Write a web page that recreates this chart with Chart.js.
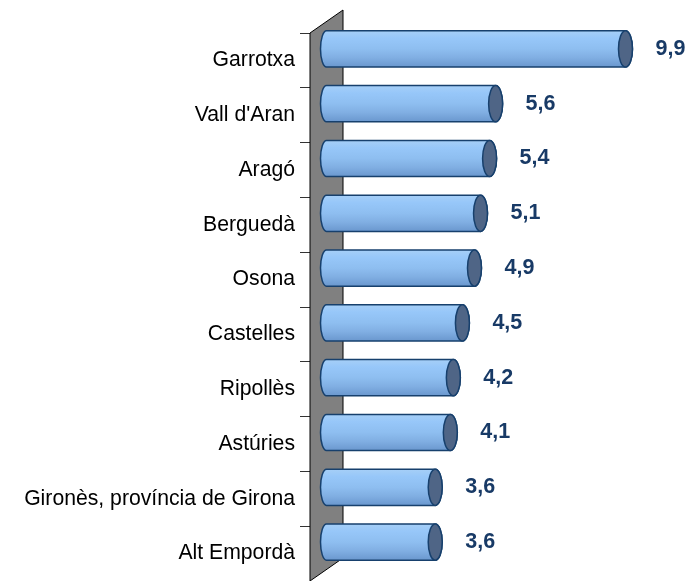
<!DOCTYPE html>
<html>
<head>
<meta charset="utf-8">
<script src="https://cdn.jsdelivr.net/npm/chart.js@4/dist/chart.umd.min.js"></script>
<style>
  html, body { margin: 0; padding: 0; background: #fff; }
  #wrap { width: 700px; height: 581px; }
</style>
</head>
<body>
<div id="wrap"><canvas id="chart"></canvas></div>
<script>
const comarques = [
  'Garrotxa', "Vall d'Aran", 'Aragó', 'Berguedà', 'Osona',
  'Castelles', 'Ripollès', 'Astúries', 'Gironès, província de Girona', 'Alt Empordà'
]
const valors = [9.9, 5.6, 5.4, 5.1, 4.9, 4.5, 4.2, 4.1, 3.6, 3.6]
const etiquetes = ['9,9', '5,6', '5,4', '5,1', '4,9', '4,5', '4,2', '4,1', '3,6', '3,6']

// profunditat de la perspectiva 3D
const WALL_DX = 33
const WALL_DY = -23

const wallPlugin = {
  id: 'wall',
  beforeDatasetsDraw(chart) {
    const { ctx, chartArea: { left, top, bottom } } = chart
    ctx.save()
    ctx.beginPath()
    ctx.moveTo(left, top)
    ctx.lineTo(left + WALL_DX, top + WALL_DY)
    ctx.lineTo(left + WALL_DX, bottom + WALL_DY)
    ctx.lineTo(left, bottom)
    ctx.closePath()
    ctx.fillStyle = '#808080'
    ctx.fill()
    ctx.strokeStyle = '#000'
    ctx.lineWidth = 1
    ctx.stroke()
    ctx.restore()
  }
}

function cylinder(ctx, x0, x1, cy, h) {
  const r = h / 2
  const rx = 7
  const top = cy - r
  const bot = cy + r
  const g = ctx.createLinearGradient(0, top, 0, bot)
  g.addColorStop(0, '#a6cff7')
  g.addColorStop(0.2, '#97c7f9')
  g.addColorStop(0.5, '#8ebef0')
  g.addColorStop(0.75, '#80aee2')
  g.addColorStop(1, '#6a97ce')

  ctx.beginPath()
  ctx.moveTo(x1, top)
  ctx.lineTo(x0, top)
  ctx.ellipse(x0, cy, rx - 1, r, 0, -Math.PI / 2, Math.PI / 2, true)
  ctx.lineTo(x1, bot)
  ctx.ellipse(x1, cy, rx, r, 0, Math.PI / 2, -Math.PI / 2, true)
  ctx.closePath()
  ctx.fillStyle = g
  ctx.fill()
  ctx.strokeStyle = '#17406d'
  ctx.lineWidth = 1.5
  ctx.stroke()

  // tapa del cilindre
  ctx.beginPath()
  ctx.ellipse(x1, cy, rx, r, 0, 0, Math.PI * 2)
  ctx.fillStyle = '#4f6586'
  ctx.fill()
  ctx.stroke()
}

const cylinderPlugin = {
  id: 'cylinders',
  afterDatasetsDraw(chart) {
    const { ctx } = chart
    const meta = chart.getDatasetMeta(0)
    const dx = WALL_DX / 2
    const dy = WALL_DY / 2
    ctx.save()
    meta.data.forEach((el, i) => {
      const { x, y, base, height } = el.getProps(['x', 'y', 'base', 'height'], true)
      cylinder(ctx, base + dx, x + dx, y + dy, height)
      ctx.fillStyle = '#183a66'
      ctx.font = 'bold 21.5px "Liberation Sans", Arial, sans-serif'
      ctx.textAlign = 'left'
      ctx.textBaseline = 'middle'
      ctx.fillText(etiquetes[i], x + dx + 30, y + dy)
    })
    ctx.restore()
  }
}

new Chart(document.getElementById('chart'), {
  type: 'bar',
  plugins: [wallPlugin, cylinderPlugin],
  data: {
    labels: comarques,
    datasets: [
      {
        data: valors,
        backgroundColor: 'transparent',
        borderWidth: 0,
        categoryPercentage: 1,
        barPercentage: 0.66
      }
    ]
  },
  options: {
    indexAxis: 'y',
    responsive: true,
    maintainAspectRatio: false,
    animation: false,
    layout: {
      padding: { top: 33, right: 88, bottom: 0, left: 0 }
    },
    plugins: {
      legend: { display: false },
      tooltip: { enabled: false }
    },
    scales: {
      x: {
        display: false,
        min: 0,
        max: 10
      },
      y: {
        afterFit(scale) {
          scale.width = 310
          scale.paddingTop = 0
          scale.paddingBottom = 0
        },
        border: { display: false },
        grid: {
          offset: true,
          drawOnChartArea: false,
          drawTicks: true,
          tickLength: 10,
          color: '#333'
        },
        ticks: {
          padding: 5,
          color: '#000',
          font: { family: '"Liberation Sans", Arial, sans-serif', size: 21.2 }
        }
      }
    }
  }
})
</script>
</body>
</html>
